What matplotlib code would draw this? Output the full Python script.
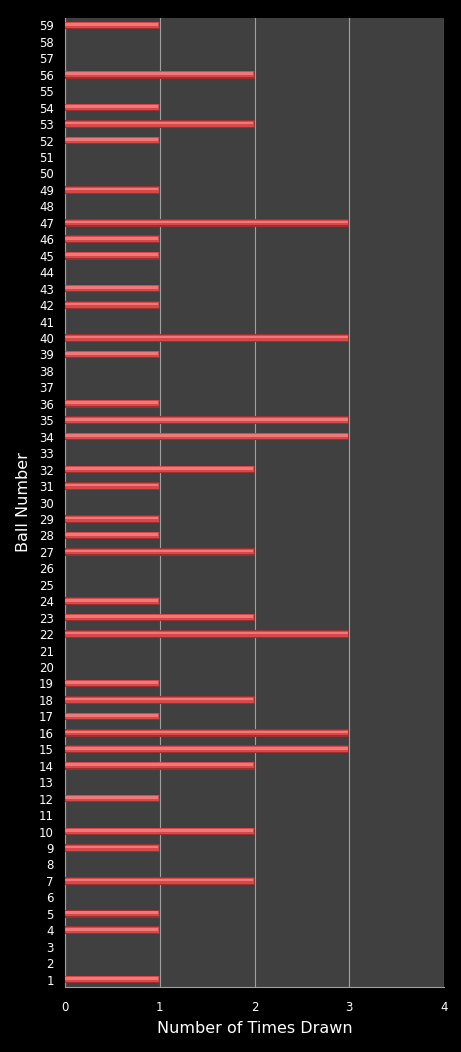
import matplotlib
matplotlib.use("Agg")
import matplotlib.pyplot as plt
import numpy as np

balls = list(range(1, 60))
counts = [1, 0, 0, 1, 1, 0, 2, 0, 1, 2,
          0, 1, 0, 2, 3, 3, 1, 2, 1, 0,
          0, 3, 2, 1, 0, 0, 2, 1, 1, 0,
          1, 2, 0, 3, 3, 1, 0, 0, 1, 3,
          0, 1, 1, 0, 1, 1, 3, 0, 1, 0,
          0, 1, 2, 1, 0, 2, 0, 0, 1]
x_ticks = [0, 1, 2, 3, 4]

plt.rcParams['font.family'] = ['DejaVu Sans']
fig = plt.figure(figsize=(4.61, 10.52), dpi=100, facecolor='black')
ax = fig.add_axes([65/461, 1-987/1052, (444-65)/461, (987-18)/1052])
ax.set_facecolor('#404040')

y = np.array(balls)
c = np.array(counts)
# cylinder-like bar: dark base, red body, light highlight
ax.barh(y, c, height=0.46, color='#9a3030', zorder=3)
ax.barh(y + 0.02, c - 0.008, height=0.36, color='#d84848', zorder=4)
ax.barh(y + 0.06, c - 0.016, height=0.16, color='#f07878', zorder=5)

ax.set_xlim(0, 4)
ax.set_ylim(0.55, 59.45)
ax.set_xticks(x_ticks)
ax.set_yticks(balls)
ax.set_yticklabels([str(b) for b in balls])
ax.xaxis.grid(True, color='#a0a0a0', linewidth=0.8)
ax.set_axisbelow(True)
for s in ['top', 'right']:
    ax.spines[s].set_visible(False)
for s in ['left', 'bottom']:
    ax.spines[s].set_color('#a0a0a0')
ax.tick_params(axis='both', colors='white', labelsize=8.5, length=0)
ax.tick_params(axis='x', pad=10)
ax.tick_params(axis='y', pad=8)
ax.set_xlabel('Number of Times Drawn', color='white', fontsize=11.5, labelpad=5)
ax.set_ylabel('Ball Number', color='white', fontsize=11.5, labelpad=6)

fig.savefig('out.png', dpi=100, facecolor='black')
